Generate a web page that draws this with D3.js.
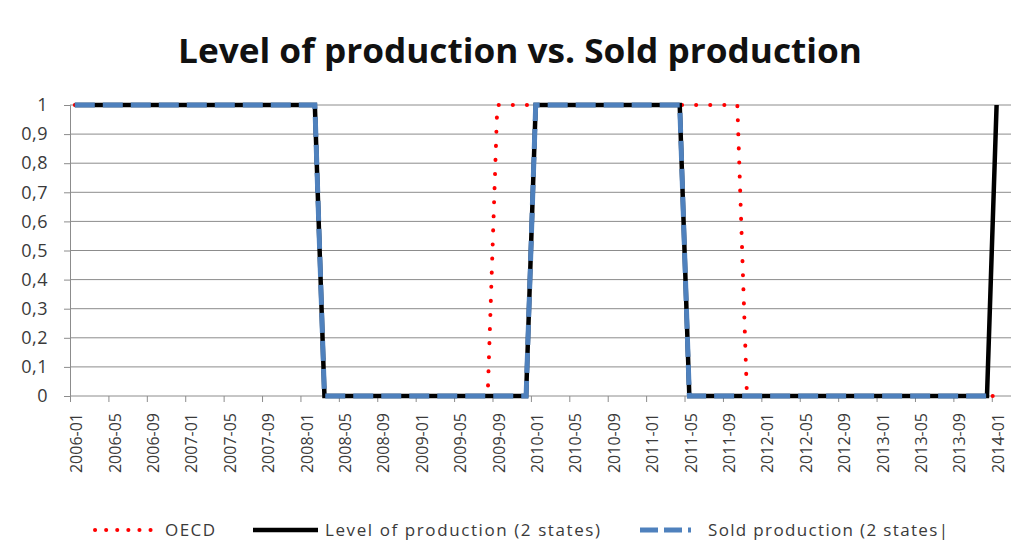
<!DOCTYPE html>
<html>
<head>
<meta charset="utf-8">
<script src="https://cdn.jsdelivr.net/npm/d3@7"></script>
<style>
  body { margin: 0; background: #fff; }
  svg { font-family: "Open Sans", sans-serif; }
</style>
</head>
<body>
<svg id="chart" width="1020" height="544"></svg>
<script>
// monthly categories 2006-01 .. 2014-02 (last slot is empty in the original)
const months = d3.timeMonth.range(new Date(2006, 0, 1), new Date(2014, 2, 1)).map(d3.timeFormat("%Y-%m"));

const tickLabels = ["2006-01","2006-05","2006-09","2007-01","2007-05","2007-09","2008-01","2008-05","2008-09",
  "2009-01","2009-05","2009-09","2010-01","2010-05","2010-09","2011-01","2011-05","2011-09",
  "2012-01","2012-05","2012-09","2013-01","2013-05","2013-09","2014-01"];

const yTicks = [0, 0.1, 0.2, 0.3, 0.4, 0.5, 0.6, 0.7, 0.8, 0.9, 1];

// one value per month, 2006-01 .. 2014-01
const oecd = [
  1,1,1,1,1,1,1,1,1,1,1,1,   // 2006
  1,1,1,1,1,1,1,1,1,1,1,1,   // 2007
  1,1,0,0,0,0,0,0,0,0,0,0,   // 2008
  0,0,0,0,0,0,0,0,1,1,1,1,   // 2009
  1,1,1,1,1,1,1,1,1,1,1,1,   // 2010
  1,1,1,1,1,1,1,1,1,1,0,0,   // 2011
  0,0,0,0,0,0,0,0,0,0,0,0,   // 2012
  0,0,0,0,0,0,0,0,0,0,0,0,   // 2013
  0                          // 2014-01
];
const level = [
  1,1,1,1,1,1,1,1,1,1,1,1,
  1,1,1,1,1,1,1,1,1,1,1,1,
  1,1,0,0,0,0,0,0,0,0,0,0,
  0,0,0,0,0,0,0,0,0,0,0,0,
  1,1,1,1,1,1,1,1,1,1,1,1,
  1,1,1,1,0,0,0,0,0,0,0,0,
  0,0,0,0,0,0,0,0,0,0,0,0,
  0,0,0,0,0,0,0,0,0,0,0,0,
  1
];
const sold = [
  1,1,1,1,1,1,1,1,1,1,1,1,
  1,1,1,1,1,1,1,1,1,1,1,1,
  1,1,0,0,0,0,0,0,0,0,0,0,
  0,0,0,0,0,0,0,0,0,0,0,0,
  1,1,1,1,1,1,1,1,1,1,1,1,
  1,1,1,1,0,0,0,0,0,0,0,0,
  0,0,0,0,0,0,0,0,0,0,0,0,
  0,0,0,0,0,0,0,0,0,0,0,0,
  null
];

const margin = {top: 105, left: 70};
const width = 941, height = 291;

const svg = d3.select("#chart");
const chart = svg.append("g").attr("transform", `translate(${margin.left},${margin.top})`);

// band edges as a linear scale over month index, points sit mid-band
const x = d3.scaleLinear().domain([0, months.length]).range([0, width]);
const y = d3.scaleLinear().domain([0, 1]).range([height, 0]);

// gridlines
chart.append("g")
  .selectAll("line")
  .data(yTicks.filter(d => d > 0))
  .join("line")
  .attr("x1", 0).attr("x2", width)
  .attr("y1", d => y(d)).attr("y2", d => y(d))
  .attr("stroke", "#8c8c8c").attr("stroke-width", 1);

// y axis
const yAxis = d3.axisLeft(y).tickValues(yTicks).tickSize(6).tickPadding(16)
  .tickFormat(d => d === 0 ? "0" : d === 1 ? "1" : String(d).replace(".", ","));
const yAxisG = chart.append("g").call(yAxis);
yAxisG.select(".domain").attr("stroke", "#8c8c8c");
yAxisG.selectAll(".tick line").attr("stroke", "#8c8c8c");
yAxisG.selectAll("text").attr("font-size", 18).attr("fill", "#3a3a3a")
  .attr("font-family", "Open Sans").style("letter-spacing", "0.5px");

// x axis
const xAxis = d3.axisBottom(x)
  .tickValues(tickLabels.map(t => months.indexOf(t)))
  .tickSize(6)
  .tickFormat(i => months[i]);
const xAxisG = chart.append("g").attr("transform", `translate(0,${height})`).call(xAxis);
xAxisG.select(".domain").attr("stroke", "#8c8c8c").attr("d", `M0,0H${width}`);
xAxisG.selectAll(".tick line").attr("stroke", "#8c8c8c");
xAxisG.selectAll("text")
  .attr("transform", "rotate(-90)")
  .attr("x", -17).attr("y", 6).attr("dy", "0.35em")
  .attr("text-anchor", "end")
  .attr("font-size", 16).attr("fill", "#3a3a3a").attr("font-family", "Open Sans");

// series
const line = d3.line()
  .defined(d => d != null)
  .x((d, i) => x(i + 0.5))
  .y(d => y(d));

const series = [
  {name: "OECD", values: oecd, color: "#ff0000", width: 4, dash: "0.1 14", cap: "round"},
  {name: "Level of production (2 states)", values: level, color: "#000000", width: 4.5, dash: null, cap: "butt"},
  {name: "Sold production (2 states|", values: sold, color: "#4f81bd", width: 5, dash: "20 8", cap: "butt"}
];

chart.append("g")
  .selectAll("path")
  .data(series)
  .join("path")
  .attr("d", d => line(d.values))
  .attr("fill", "none")
  .attr("stroke", d => d.color)
  .attr("stroke-width", d => d.width)
  .attr("stroke-dasharray", d => d.dash)
  .attr("stroke-linecap", d => d.cap)
  .attr("stroke-linejoin", "miter");

// title
svg.append("text")
  .attr("x", 520).attr("y", 63)
  .attr("text-anchor", "middle")
  .attr("font-size", 34).attr("font-weight", "bold")
  .attr("fill", "#111")
  .attr("textLength", 684).attr("lengthAdjust", "spacingAndGlyphs")
  .text("Level of production vs. Sold production");

// legend
const legendItems = [
  {s: series[0], x1: 95, x2: 158, tx: 165, tw: 50, dash: "0.1 11"},
  {s: series[1], x1: 253, x2: 318, tx: 325, tw: 275, dash: null},
  {s: series[2], x1: 640, x2: 691, tx: 708, tw: 240, dash: "18 6"}
];
const legend = svg.append("g").attr("transform", "translate(0,530)");
legend.selectAll("line")
  .data(legendItems)
  .join("line")
  .attr("x1", d => d.x1).attr("x2", d => d.x2)
  .attr("y1", 0).attr("y2", 0)
  .attr("stroke", d => d.s.color)
  .attr("stroke-width", d => d.s.width)
  .attr("stroke-dasharray", d => d.dash)
  .attr("stroke-linecap", d => d.s.cap);
legend.selectAll("text")
  .data(legendItems)
  .join("text")
  .attr("x", d => d.tx).attr("y", 0).attr("dy", "0.35em")
  .attr("font-size", 17).attr("fill", "#3a3a3a")
  .attr("textLength", d => d.tw).attr("lengthAdjust", "spacing")
  .text(d => d.s.name);
</script>
</body>
</html>
